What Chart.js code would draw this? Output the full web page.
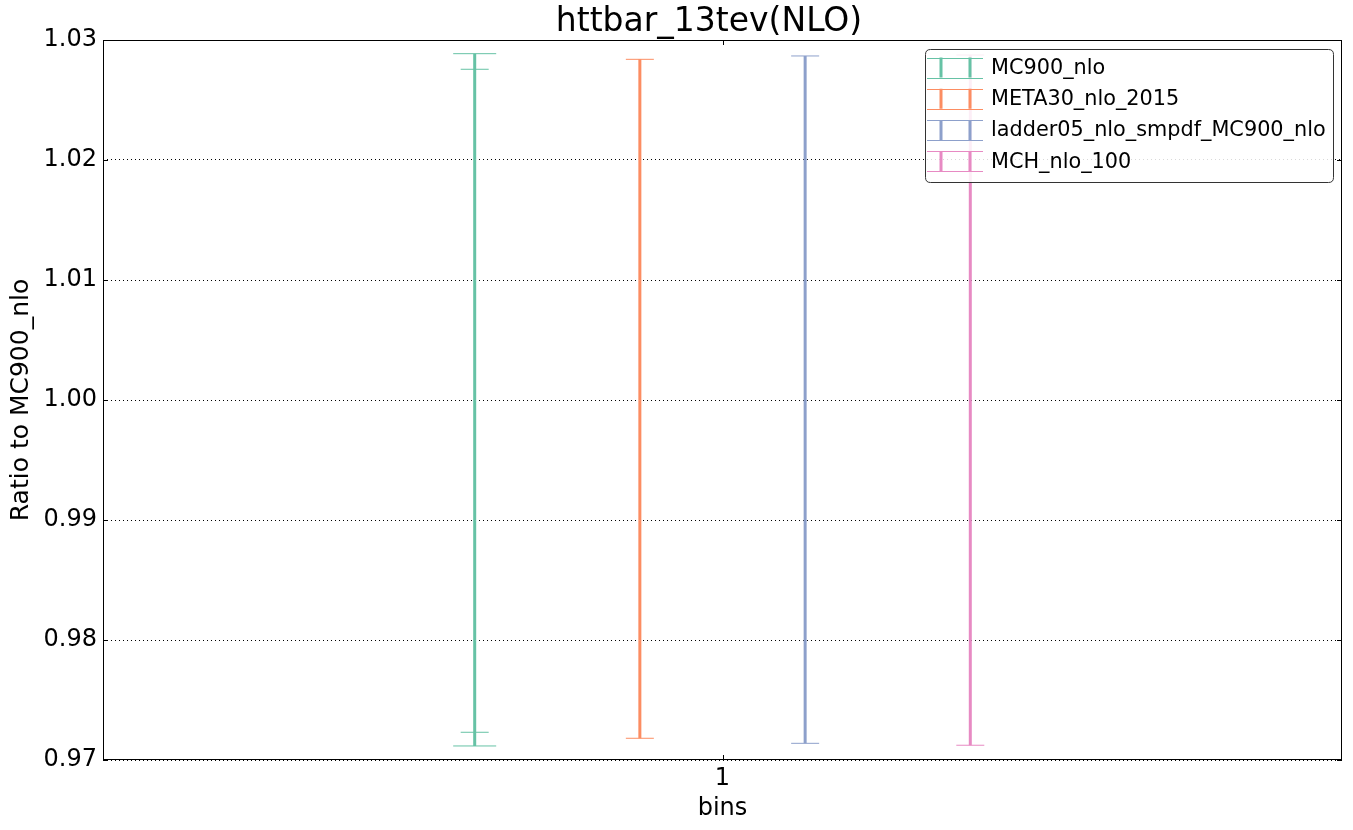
<!DOCTYPE html>
<html>
<head>
<meta charset="utf-8">
<script src="https://cdn.jsdelivr.net/npm/chart.js@4/dist/chart.umd.min.js"></script>
<style>
  html, body { margin: 0; padding: 0; background: #fff; overflow: hidden; }
  canvas { display: block; }
</style>
</head>
<body>
<canvas id="chart" width="1353" height="830"></canvas>
<script>
// series names, colours and positions along the bin
const seriesNames = ['MC900_nlo', 'META30_nlo_2015', 'ladder05_nlo_smpdf_MC900_nlo', 'MCH_nlo_100'];
const seriesColors = ['#66c2a5', '#fc8d62', '#8da0cb', '#e78ac3'];
const xPositions = [0.8, 0.9333, 1.0667, 1.2];

// error bar limits (ratio to MC900_nlo)
const outerLow = [0.97117, 0.97181, 0.97139, 0.97123];
const outerHigh = [1.02886, 1.02839, 1.02867, 1.02875];
// second (inner) band, only distinct for MC900_nlo
const innerLow = [0.97231];
const innerHigh = [1.02756];

// ticks
const xTicks = [1];
const yTicks = [0.97, 0.98, 0.99, 1.00, 1.01, 1.02, 1.03];

const FONT = 'DejaVu Sans';

const datasets = [];
seriesNames.forEach(function(name, i) {
    datasets.push({
        label: name,
        data: [{x: xPositions[i], y: outerLow[i]}, {x: xPositions[i], y: outerHigh[i]}],
        showLine: true,
        borderColor: seriesColors[i],
        backgroundColor: seriesColors[i],
        borderWidth: 3,
        pointStyle: 'line',
        pointRadius: i === 0 ? 21.5 : 14,
        pointBorderWidth: 1,
        pointBorderColor: seriesColors[i],
        order: 10 - i
    });
});
// inner caps of MC900_nlo
datasets.push({
    label: 'MC900_nlo inner',
    data: [{x: xPositions[0], y: innerLow[0]}, {x: xPositions[0], y: innerHigh[0]}],
    showLine: false,
    borderColor: seriesColors[0],
    backgroundColor: seriesColors[0],
    pointStyle: 'line',
    pointRadius: 14,
    pointBorderWidth: 1,
    pointBorderColor: seriesColors[0]
});

// keep the plot area at the matplotlib position (right edge 11px from the border)
const areaPlugin = {
    id: 'area',
    afterLayout: function(chart) {
        const a = chart.chartArea;
        const target = chart.width - 11;
        if (a.right !== target) {
            a.right = target;
            a.width = a.right - a.left;
            const xs = chart.scales.x;
            xs.right = target;
            xs.width = xs.right - xs.left;
            xs.configure();
        }
    }
};

// title, frame, inside ticks and legend
const decorPlugin = {
    id: 'decor',
    afterDraw: function(chart) {
        const ctx = chart.ctx;
        const a = chart.chartArea;
        const ys = chart.scales.y, xs = chart.scales.x;
        ctx.save();

        ctx.fillStyle = '#000';
        ctx.font = '33px "' + FONT + '"';
        ctx.textAlign = 'center';
        ctx.textBaseline = 'middle';
        ctx.fillText('httbar_13tev(NLO)', 709, 22);

        ctx.strokeStyle = '#000';
        ctx.lineWidth = 1;
        ctx.strokeRect(a.left + 0.5, a.top + 0.5, a.right - a.left - 1, a.bottom - a.top - 1);
        // inside ticks
        ctx.beginPath();
        yTicks.forEach(function(v) {
            const py = Math.round(ys.getPixelForValue(v)) + 0.5;
            ctx.moveTo(a.left, py); ctx.lineTo(a.left + 5, py);
            ctx.moveTo(a.right, py); ctx.lineTo(a.right - 5, py);
        });
        xTicks.forEach(function(v) {
            const px = Math.round(xs.getPixelForValue(v)) + 0.5;
            ctx.moveTo(px, a.bottom); ctx.lineTo(px, a.bottom - 5);
            ctx.moveTo(px, a.top); ctx.lineTo(px, a.top + 5);
        });
        ctx.stroke();

        // legend
        const lx = 925.5, ly = 49.5, lw = 408, lh = 133, r = 5;
        ctx.beginPath();
        ctx.moveTo(lx + r, ly);
        ctx.lineTo(lx + lw - r, ly);
        ctx.quadraticCurveTo(lx + lw, ly, lx + lw, ly + r);
        ctx.lineTo(lx + lw, ly + lh - r);
        ctx.quadraticCurveTo(lx + lw, ly + lh, lx + lw - r, ly + lh);
        ctx.lineTo(lx + r, ly + lh);
        ctx.quadraticCurveTo(lx, ly + lh, lx, ly + lh - r);
        ctx.lineTo(lx, ly + r);
        ctx.quadraticCurveTo(lx, ly, lx + r, ly);
        ctx.closePath();
        ctx.fillStyle = 'rgba(255,255,255,0.85)';
        ctx.fill();
        ctx.strokeStyle = '#333';
        ctx.stroke();

        ctx.font = '20.8px "' + FONT + '"';
        ctx.textBaseline = 'middle';
        ctx.textAlign = 'left';
        seriesNames.forEach(function(name, i) {
            const cy = 67.5 + i * 31.3;
            const c = seriesColors[i];
            ctx.strokeStyle = c;
            ctx.lineWidth = 1;
            ctx.beginPath();
            ctx.moveTo(927, Math.round(cy - 10) + 0.5); ctx.lineTo(983, Math.round(cy - 10) + 0.5);
            ctx.moveTo(927, Math.round(cy + 10) + 0.5); ctx.lineTo(983, Math.round(cy + 10) + 0.5);
            ctx.stroke();
            ctx.lineWidth = 3;
            ctx.beginPath();
            ctx.moveTo(941, cy - 10); ctx.lineTo(941, cy + 10);
            ctx.moveTo(970, cy - 10); ctx.lineTo(970, cy + 10);
            ctx.stroke();
            ctx.fillStyle = '#000';
            ctx.fillText(name, 991, cy + 1);
        });
        ctx.restore();
    }
};

new Chart(document.getElementById('chart'), {
    type: 'scatter',
    data: { datasets: datasets },
    plugins: [areaPlugin, decorPlugin],
    options: {
        responsive: false,
        animation: false,
        layout: { padding: { left: 0, right: 11, top: 40, bottom: 0 } },
        plugins: {
            legend: { display: false },
            tooltip: { enabled: false },
            title: { display: false }
        },
        scales: {
            x: {
                type: 'linear',
                min: 0.5,
                max: 1.5,
                afterBuildTicks: function(scale) {
                    scale.ticks = xTicks.map(function(v) { return { value: v }; });
                },
                afterFit: function(scale) {
                    scale.height = 70;
                    scale.paddingLeft = 0;
                    scale.paddingRight = 0;
                },
                ticks: {
                    color: '#000',
                    font: { family: FONT, size: 24 },
                    padding: 4,
                    maxRotation: 0,
                    callback: function(v) { return String(v); }
                },
                grid: { display: false, drawTicks: false },
                border: { display: false },
                title: {
                    display: true,
                    text: 'bins',
                    color: '#000',
                    font: { family: FONT, size: 24 },
                    padding: { top: 0, bottom: 7 }
                }
            },
            y: {
                type: 'linear',
                min: 0.97,
                max: 1.03,
                afterBuildTicks: function(scale) {
                    scale.ticks = yTicks.map(function(v) { return { value: v }; });
                },
                afterFit: function(scale) {
                    scale.width = 103;
                    scale.paddingTop = 0;
                    scale.paddingBottom = 0;
                },
                ticks: {
                    color: '#000',
                    font: { family: FONT, size: 24 },
                    padding: 6,
                    callback: function(v) { return Number(v).toFixed(2); }
                },
                grid: {
                    color: '#000',
                    lineWidth: 1,
                    drawTicks: false
                },
                border: { display: false, dash: [1, 3] },
                title: {
                    display: true,
                    text: 'Ratio to MC900_nlo',
                    color: '#000',
                    font: { family: FONT, size: 25 },
                    padding: { top: 6, bottom: 0 }
                }
            }
        }
    }
});
</script>
</body>
</html>
